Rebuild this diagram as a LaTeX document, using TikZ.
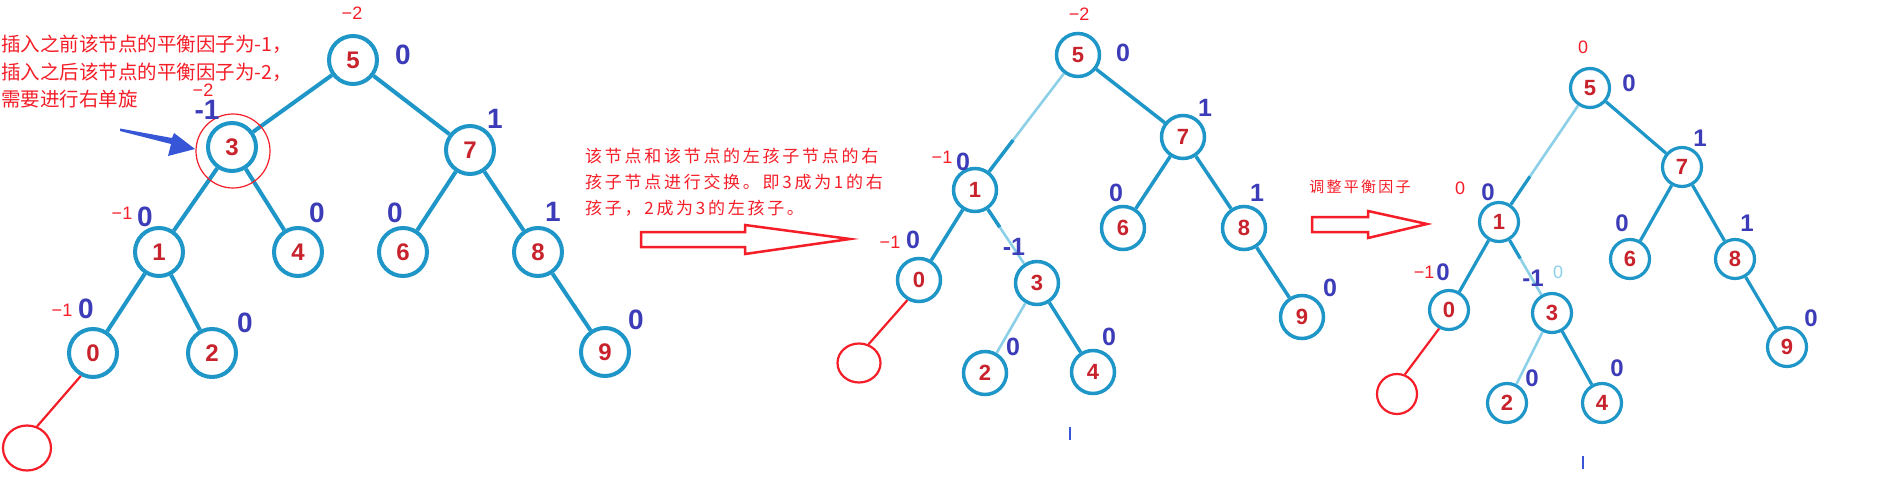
\documentclass[tikz,border=0pt]{standalone}
\usepackage{fontspec}
\setmainfont{Liberation Sans}
\newfontfamily\cjk{Noto Sans CJK SC}
\newfontfamily\cjksp{Noto Sans CJK SC}[LetterSpace=16]
\newfontfamily\cjkspb{Noto Sans CJK SC}[LetterSpace=15]
\usetikzlibrary{calc,shapes.geometric}
\definecolor{nodeblue}{RGB}{30,150,200}
\definecolor{numred}{RGB}{200,35,45}
\definecolor{lblue}{RGB}{60,60,185}
\definecolor{annred}{RGB}{245,30,40}
\definecolor{litblue}{RGB}{140,208,232}
\definecolor{arrblue}{RGB}{55,85,215}
\tikzset{
  nA/.style={circle, draw=nodeblue, line width=4pt, minimum size=48pt, inner sep=0pt, text=numred, font=\bfseries\fontsize{24}{24}\selectfont},
  nB/.style={circle, draw=nodeblue, line width=3.5pt, minimum size=43pt, inner sep=0pt, text=numred, font=\bfseries\fontsize{22}{22}\selectfont},
  nC/.style={circle, draw=nodeblue, line width=3.2pt, minimum size=39pt, inner sep=0pt, text=numred, font=\bfseries\fontsize{22}{22}\selectfont},
  eA/.style={draw=nodeblue, line width=4pt},
  eB/.style={draw=nodeblue, line width=3.5pt},
  eC/.style={draw=nodeblue, line width=3.2pt},
  eL/.style={draw=litblue, line width=2.6pt},
  bA/.style={text=lblue, inner sep=0pt, font=\bfseries\fontsize{28}{28}\selectfont},
  bB/.style={text=lblue, inner sep=0pt, font=\bfseries\fontsize{25}{25}\selectfont},
  bC/.style={text=lblue, inner sep=0pt, font=\bfseries\fontsize{24}{24}\selectfont},
  rs/.style={text=annred, inner sep=0pt, font=\fontsize{18}{18}\selectfont},
  emptyn/.style={ellipse, draw=annred, line width=2.2pt, inner sep=0pt},
  redline/.style={draw=annred, line width=2.2pt},
  hollow/.style={draw=annred, line width=2.5pt, line join=miter},
}
\begin{document}
\begin{tikzpicture}[x=1pt,y=-1pt]
\useasboundingbox (0,0) rectangle (1893,477);
\fill[white] (0,0) rectangle (1893,477);

% ---------- annotation 1 ----------
\node[anchor=north west, inner sep=0pt, align=left, text=annred, font=\cjk\fontsize{19.5}{27.5}\selectfont] (note1) at (1,35)
  {插入之前该节点的平衡因子为-1，\\插入之后该节点的平衡因子为-2，\\需要进行右单旋};
\fill[arrblue] (120,128.5) -- (172,138) -- (174,133) -- (195,149) -- (168,156) -- (171,144) -- (120,131) -- cycle;

% ---------- tree 1 ----------
\node[nA] (a5) at (353,60) {5};
\node[nA] (a3) at (232,147) {3};
\node[nA] (a7) at (470,150) {7};
\node[nA] (a1) at (159,252) {1};
\node[nA] (a4) at (298,252) {4};
\node[nA] (a6) at (403,252) {6};
\node[nA] (a8) at (538,252) {8};
\node[nA] (a0) at (93,353) {0};
\node[nA] (a2) at (212,353) {2};
\node[nA] (a9) at (605,352) {9};
\draw[eA] (a5) -- (a3);
\draw[eA] (a5) -- (a7);
\draw[eA] (a3) -- (a1);
\draw[eA] (a3) -- (a4);
\draw[eA] (a7) -- (a6);
\draw[eA] (a7) -- (a8);
\draw[eA] (a1) -- (a0);
\draw[eA] (a1) -- (a2);
\draw[eA] (a8) -- (a9);
\node[circle, draw=annred, line width=1.2pt, minimum width=74pt, inner sep=0pt] (a3ring) at (233,151) {};
\node[emptyn, minimum width=48pt, minimum height=45pt] (a00) at (27,448) {};
\draw[redline] (a0.242) -- (a00.65);
\node[bA] (la5) at (403,55) {0};
\node[bA] (la7) at (495,119) {1};
\node[bA] (la3) at (207,110) {-1};
\node[bA] (la1) at (145,217) {0};
\node[bA] (la4) at (317,213) {0};
\node[bA] (la6) at (395,213) {0};
\node[bA] (la8) at (553,212) {1};
\node[bA] (la0) at (86,309) {0};
\node[bA] (la2) at (245,323) {0};
\node[bA] (la9) at (636,320) {0};
\node[rs] (ra5) at (352,13) {−2};
\node[rs] (ra3) at (203,90) {−2};
\node[rs] (ra1) at (122,213) {−1};
\node[rs] (ra0) at (62,310) {−1};

% ---------- annotation 2 and arrow ----------
\node[anchor=north west, inner sep=0pt, align=left, text=annred, font=\cjksp\fontsize{17}{26}\selectfont] (note2) at (585,148)
  {该节点和该节点的左孩子节点的右\\孩子节点进行交换。即3成为1的右\\孩子，2成为3的左孩子。};
\draw[hollow] (641,232) -- (745,232) -- (745,225) -- (850,239) -- (745,254) -- (745,247) -- (641,247) -- cycle;

% ---------- tree 2 ----------
\node[nB] (b5) at (1078,55) {5};
\node[nB] (b7) at (1183,137) {7};
\node[nB] (b1) at (975,190) {1};
\node[nB] (b6) at (1123,228) {6};
\node[nB] (b8) at (1244,228) {8};
\node[nB] (b0) at (919,280) {0};
\node[nB] (b3) at (1037,283) {3};
\node[nB] (b2) at (985,373) {2};
\node[nB] (b4) at (1093,372) {4};
\node[nB] (b9) at (1302,317) {9};
\coordinate (b15) at ($(b1)!0.37!(b5)$);
\coordinate (b13) at ($(b1)!0.4!(b3)$);
\draw[eL] (b5) -- (b1);
\draw[eB] (b1) -- (b15);
\draw[eL] (b1) -- (b3);
\draw[eB] (b1) -- (b13);
\draw[eL] (b3) -- (b2);
\draw[eB] (b5) -- (b7);
\draw[eB] (b7) -- (b6);
\draw[eB] (b7) -- (b8);
\draw[eB] (b8) -- (b9);
\draw[eB] (b1) -- (b0);
\draw[eB] (b3) -- (b4);
\node[emptyn, minimum width=43pt, minimum height=39pt] (b00) at (859,363) {};
\draw[redline] (b0.240) -- (b00.63);
\node[bB] (lb5) at (1123,53) {0};
\node[bB] (lb7) at (1205,108) {1};
\node[bB] (lb1) at (963,162) {0};
\node[bB] (lb6) at (1116,193) {0};
\node[bB] (lb8) at (1257,193) {1};
\node[bB] (lb0) at (913,240) {0};
\node[bB] (lb3) at (1014,247) {-1};
\node[bB] (lb2) at (1013,347) {0};
\node[bB] (lb4) at (1109,337) {0};
\node[bB] (lb9) at (1330,288) {0};
\node[rs] (rb5) at (1079,14) {−2};
\node[rs] (rb1) at (942,157) {−1};
\node[rs] (rb0) at (890,242) {−1};
\draw[arrblue, line width=2.5pt] (1070,427) -- (1070,440);

% ---------- annotation 3 and arrow ----------
\node[inner sep=0pt, text=annred, font=\cjkspb\fontsize{15}{15}\selectfont] (note3) at (1360,187) {调整平衡因子};
\draw[hollow] (1312,217) -- (1368,217) -- (1368,211) -- (1427,224) -- (1368,238) -- (1368,232) -- (1312,232) -- cycle;

% ---------- tree 3 ----------
\node[nC] (c5) at (1590,88) {5};
\node[nC] (c7) at (1682,167) {7};
\node[nC] (c1) at (1499,222) {1};
\node[nC] (c6) at (1630,259) {6};
\node[nC] (c8) at (1735,259) {8};
\node[nC] (c0) at (1449,310) {0};
\node[nC] (c3) at (1552,313) {3};
\node[nC] (c2) at (1507,403) {2};
\node[nC] (c4) at (1602,403) {4};
\node[nC] (c9) at (1787,347) {9};
\coordinate (c15) at ($(c1)!0.34!(c5)$);
\coordinate (c13) at ($(c1)!0.4!(c3)$);
\draw[eL] (c5) -- (c1);
\draw[eC] (c1) -- (c15);
\draw[eL] (c1) -- (c3);
\draw[eC] (c1) -- (c13);
\draw[eL] (c3) -- (c2);
\draw[eC] (c5) -- (c7);
\draw[eC] (c7) -- (c6);
\draw[eC] (c7) -- (c8);
\draw[eC] (c8) -- (c9);
\draw[eC] (c1) -- (c0);
\draw[eC] (c3) -- (c4);
\node[emptyn, minimum width=40pt, minimum height=40pt] (c00) at (1397,394) {};
\draw[redline] (c0.242) -- (c00.68);
\node[bC] (lc5) at (1629,83) {0};
\node[bC] (lc7) at (1700,138) {1};
\node[bC] (lc1) at (1488,192) {0};
\node[bC] (lc6) at (1622,223) {0};
\node[bC] (lc8) at (1747,223) {1};
\node[bC] (lc0) at (1443,272) {0};
\node[bC] (lc3) at (1533,278) {-1};
\node[bC] (lc2) at (1532,378) {0};
\node[bC] (lc4) at (1617,368) {0};
\node[bC] (lc9) at (1811,318) {0};
\node[rs] (rc5) at (1583,47) {0};
\node[rs] (rc1) at (1460,188) {0};
\node[rs] (rc0) at (1424,272) {−1};
\node[text=litblue, inner sep=0pt, font=\fontsize{18}{18}\selectfont] (gc3) at (1558,272) {0};
\draw[arrblue, line width=2.5pt] (1583,456) -- (1583,469);
\end{tikzpicture}
\end{document}
